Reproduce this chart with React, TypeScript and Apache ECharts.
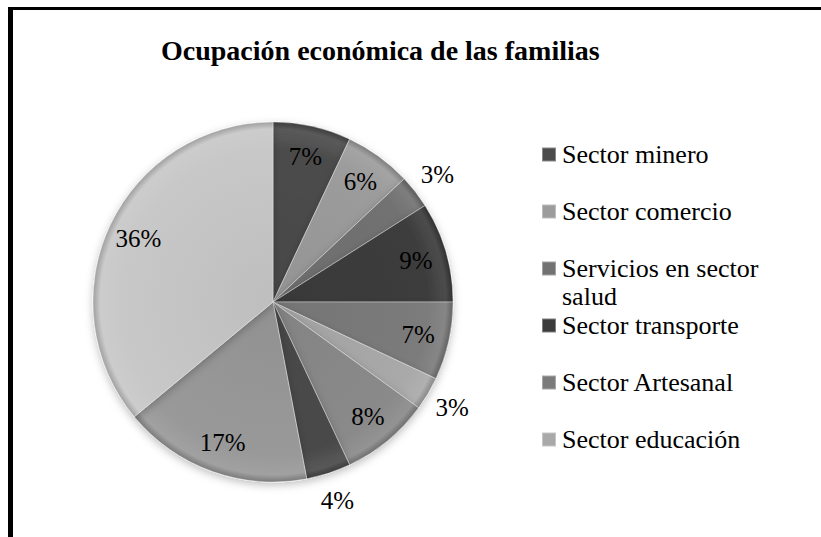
import React, { useEffect, useRef } from "react";
import * as echarts from "echarts";

const chartTitle = "Ocupación económica de las familias";
const categories = [
  "Sector minero",
  "Sector comercio",
  "Servicios en sector salud",
  "Sector transporte",
  "Sector Artesanal",
  "Sector educación",
  "Sector agrícola",
  "Sector construcción",
  "Sector ganadero",
  "Otras ocupaciones",
];
const values = [7, 6, 3, 9, 7, 3, 8, 4, 17, 36];
const legendNames = categories.slice(0, 6);
const sliceColors = [
  "#4c4c4c",
  "#9c9c9c",
  "#727272",
  "#3c3c3c",
  "#7b7b7b",
  "#a9a9a9",
  "#8a8a8a",
  "#4a4a4a",
  "#999999",
  "#c8c8c8",
];

const CX = 273;
const CY = 302;
const R = 180;
const SERIF = "Liberation Serif, Times New Roman, serif";

function shade(hex: string, f: number) {
  const n = parseInt(hex.slice(1), 16);
  const ch = [(n >> 16) & 255, (n >> 8) & 255, n & 255].map((c) =>
    Math.max(0, Math.min(255, Math.round(f < 0 ? c * (1 + f) : c + (255 - c) * f)))
  );
  return `rgb(${ch[0]},${ch[1]},${ch[2]})`;
}

function fill(c: string) {
  return {
    type: "radial",
    x: CX,
    y: CY,
    r: R,
    global: true,
    colorStops: [
      { offset: 0, color: shade(c, -0.05) },
      { offset: 0.85, color: c },
      { offset: 0.96, color: shade(c, 0.08) },
      { offset: 1, color: shade(c, -0.2) },
    ],
  };
}

export default function App() {
  const ref = useRef<HTMLDivElement>(null);
  useEffect(() => {
    const chart = echarts.init(ref.current!, null, { renderer: "svg" });
    const labelStyle = {
      formatter: "{c}%",
      fontSize: 25,
      fontFamily: SERIF,
      color: "#000",
    };
    chart.setOption({
      animation: false,
      backgroundColor: "#fff",
      title: {
        text: chartTitle,
        left: 161,
        top: 36,
        padding: 0,
        textStyle: { fontFamily: SERIF, fontWeight: "bold", fontSize: 28, color: "#000" },
      },
      legend: {
        orient: "vertical",
        left: 541,
        top: 141,
        padding: 0,
        itemWidth: 14,
        itemHeight: 14,
        itemGap: 30,
        icon: "rect",
        selectedMode: false,
        formatter: (n: string) => (n === "Servicios en sector salud" ? "Servicios en sector" : n),
        textStyle: { fontFamily: SERIF, fontSize: 26, color: "#000", lineHeight: 27, padding: [0, 0, 0, 1] },
        data: legendNames.map((n, i) => ({ name: n, itemStyle: { color: sliceColors[i] } })),
      },
      graphic: [
        { type: "rect", shape: { x: 8, y: 7, width: 5, height: 540 }, style: { fill: "#000" } },
        { type: "rect", shape: { x: 8, y: 7, width: 830, height: 3 }, style: { fill: "#000" } },
        {
          type: "text",
          x: 562,
          y: 296,
          style: { text: "salud", fontFamily: SERIF, fontSize: 26, fill: "#000", verticalAlign: "middle" },
        },
      ],
      series: [
        {
          type: "pie",
          name: "Ocupación",
          center: [CX, CY],
          radius: [0, R],
          startAngle: 90,
          clockwise: true,
          label: { show: false },
          labelLine: { show: false },
          itemStyle: {
            borderColor: "rgba(255,255,255,0.35)",
            borderWidth: 1,
            shadowBlur: 8,
            shadowColor: "rgba(0,0,0,0.25)",
            shadowOffsetY: 3,
          },
          emphasis: { disabled: true },
          data: values.map((v, i) => ({ name: categories[i], value: v, itemStyle: { color: fill(sliceColors[i]) } })),
        },
        {
          type: "pie",
          name: "etiquetas",
          center: [CX, CY],
          radius: [R * 0.62, R],
          startAngle: 90,
          clockwise: true,
          silent: true,
          itemStyle: { color: "transparent", borderWidth: 0 },
          labelLine: { show: false },
          label: { ...labelStyle, position: "inside" },
          emphasis: { disabled: true },
          data: values.map((v, i) => ({ name: categories[i], value: v, label: { show: v > 4 } })),
        },
        {
          type: "pie",
          name: "etiquetas externas",
          center: [CX, CY],
          radius: [R, R * 1.28],
          startAngle: 90,
          clockwise: true,
          silent: true,
          itemStyle: { color: "transparent", borderWidth: 0 },
          labelLine: { show: false },
          label: { ...labelStyle, position: "inside" },
          emphasis: { disabled: true },
          data: values.map((v, i) => ({ name: categories[i], value: v, label: { show: v <= 4 } })),
        },
      ],
    });
    return () => chart.dispose();
  }, []);
  return (
    <div
      ref={ref}
      style={{ position: "fixed", left: 0, top: 0, width: 821, height: 537, background: "#fff" }}
    />
  );
}
